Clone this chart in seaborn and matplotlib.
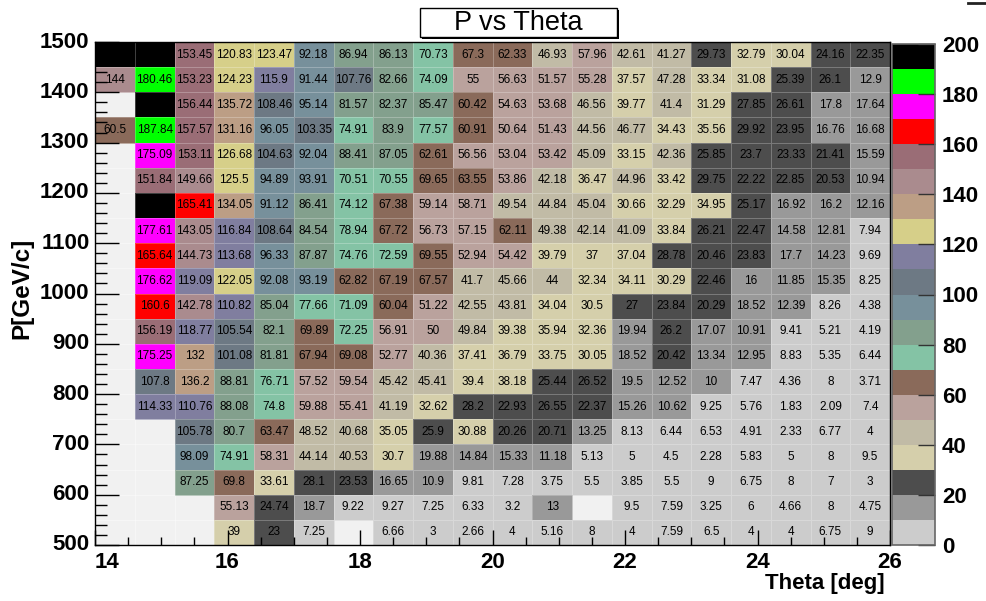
import numpy as np
import pandas as pd
import matplotlib
matplotlib.use("Agg")
import matplotlib.pyplot as plt
from matplotlib.colors import ListedColormap
from matplotlib.patches import Rectangle
from matplotlib.lines import Line2D
import seaborn as sns

nan = np.nan

# Bin layout: theta bins of 0.6 deg from 14 to 26, momentum bins of 50 GeV/c from 500 to 1500
theta_low = [14.0, 14.6, 15.2, 15.8, 16.4, 17.0, 17.6, 18.2, 18.8, 19.4,
             20.0, 20.6, 21.2, 21.8, 22.4, 23.0, 23.6, 24.2, 24.8, 25.4]
p_low = [1450, 1400, 1350, 1300, 1250, 1200, 1150, 1100, 1050, 1000,
         950, 900, 850, 800, 750, 700, 650, 600, 550, 500]

# Bin contents, one list per momentum bin (NaN = empty bin)
p1450 = [203.2, 198.4, 153.45, 120.83, 123.47, 92.18, 86.94, 86.13, 70.73, 67.3,
         62.33, 46.93, 57.96, 42.61, 41.27, 29.73, 32.79, 30.04, 24.16, 22.35]
p1400 = [144, 180.46, 153.23, 124.23, 115.9, 91.44, 107.76, 82.66, 74.09, 55,
         56.63, 51.57, 55.28, 37.57, 47.28, 33.34, 31.08, 25.39, 26.1, 12.9]
p1350 = [nan, 195.6, 156.44, 135.72, 108.46, 95.14, 81.57, 82.37, 85.47, 60.42,
         54.63, 53.68, 46.56, 39.77, 41.4, 31.29, 27.85, 26.61, 17.8, 17.64]
p1300 = [60.5, 187.84, 157.57, 131.16, 96.05, 103.35, 74.91, 83.9, 77.57, 60.91,
         50.64, 51.43, 44.56, 46.77, 34.43, 35.56, 29.92, 23.95, 16.76, 16.68]
p1250 = [nan, 175.09, 153.11, 126.68, 104.63, 92.04, 88.41, 87.05, 62.61, 56.56,
         53.04, 53.42, 45.09, 33.15, 42.36, 25.85, 23.7, 23.33, 21.41, 15.59]
p1200 = [nan, 151.84, 149.66, 125.5, 94.89, 93.91, 70.51, 70.55, 69.65, 63.55,
         53.86, 42.18, 36.47, 44.96, 33.42, 29.75, 22.22, 22.85, 20.53, 10.94]
p1150 = [nan, 190.17, 165.41, 134.05, 91.12, 86.41, 74.12, 67.38, 59.14, 58.71,
         49.54, 44.84, 45.04, 30.66, 32.29, 34.95, 25.17, 16.92, 16.2, 12.16]
p1100 = [nan, 177.61, 143.05, 116.84, 108.64, 84.54, 78.94, 67.72, 56.73, 57.15,
         62.11, 49.38, 42.14, 41.09, 33.84, 26.21, 22.47, 14.58, 12.81, 7.94]
p1050 = [nan, 165.64, 144.73, 113.68, 96.33, 87.87, 74.76, 72.59, 69.55, 52.94,
         54.42, 39.79, 37, 37.04, 28.78, 20.46, 23.83, 17.7, 14.23, 9.69]
p1000 = [nan, 176.62, 119.09, 122.05, 92.08, 93.19, 62.82, 67.19, 67.57, 41.7,
         45.66, 44, 32.34, 34.11, 30.29, 22.46, 16, 11.85, 15.35, 8.25]
p950 = [nan, 160.6, 142.78, 110.82, 85.04, 77.66, 71.09, 60.04, 51.22, 42.55,
        43.81, 34.04, 30.5, 27, 23.84, 20.29, 18.52, 12.39, 8.26, 4.38]
p900 = [nan, 156.19, 118.77, 105.54, 82.1, 69.89, 72.25, 56.91, 50, 49.84,
        39.38, 35.94, 32.36, 19.94, 26.2, 17.07, 10.91, 9.41, 5.21, 4.19]
p850 = [nan, 175.25, 132, 101.08, 81.81, 67.94, 69.08, 52.77, 40.36, 37.41,
        36.79, 33.75, 30.05, 18.52, 20.42, 13.34, 12.95, 8.83, 5.35, 6.44]
p800 = [nan, 107.8, 136.2, 88.81, 76.71, 57.52, 59.54, 45.42, 45.41, 39.4,
        38.18, 25.44, 26.52, 19.5, 12.52, 10, 7.47, 4.36, 8, 3.71]
p750 = [nan, 114.33, 110.76, 88.08, 74.8, 59.88, 55.41, 41.19, 32.62, 28.2,
        22.93, 26.55, 22.37, 15.26, 10.62, 9.25, 5.76, 1.83, 2.09, 7.4]
p700 = [nan, nan, 105.78, 80.7, 63.47, 48.52, 40.68, 35.05, 25.9, 30.88,
        20.26, 20.71, 13.25, 8.13, 6.44, 6.53, 4.91, 2.33, 6.77, 4]
p650 = [nan, nan, 98.09, 74.91, 58.31, 44.14, 40.53, 30.7, 19.88, 14.84,
        15.33, 11.18, 5.13, 5, 4.5, 2.28, 5.83, 5, 8, 9.5]
p600 = [nan, nan, 87.25, 69.8, 33.61, 28.1, 23.53, 16.65, 10.9, 9.81,
        7.28, 3.75, 5.5, 3.85, 5.5, 9, 6.75, 8, 7, 3]
p550 = [nan, nan, nan, 55.13, 24.74, 18.7, 9.22, 9.27, 7.25, 6.33,
        3.2, 13, nan, 9.5, 7.59, 3.25, 6, 4.66, 8, 4.75]
p500 = [nan, nan, nan, 39, 23, 7.25, nan, 6.66, 3, 2.66,
        4, 5.16, 8, 4, 7.59, 6.5, 4, 4, 6.75, 9]

rows = [p1450, p1400, p1350, p1300, p1250, p1200, p1150, p1100, p1050, p1000,
        p950, p900, p850, p800, p750, p700, p650, p600, p550, p500]

theta_ticks = [14, 16, 18, 20, 22, 24, 26]
p_ticks = [500, 600, 700, 800, 900, 1000, 1100, 1200, 1300, 1400, 1500]
z_ticks = [0, 20, 40, 60, 80, 100, 120, 140, 160, 180, 200]

# 20-step palette, lowest band first
palette = ['#cccccc', '#999999', '#4d4d4d', '#d5cfab', '#c1bba6', '#baa29d',
           '#8a6a5a', '#84c3a5', '#83a08d', '#77909b', '#6d7984', '#807e9f',
           '#d6cf89', '#bc9e85', '#aa8b8e', '#9a6d76', '#ff0000', '#ff00ff',
           '#00ff00', '#000000']
cmap = ListedColormap(palette)

df = pd.DataFrame(rows, index=p_low, columns=theta_low)

W, H = 986, 601
fig = plt.figure(figsize=(W / 100, H / 100), dpi=100)
fig.patch.set_facecolor('white')

fam = ['Liberation Sans', 'DejaVu Sans']
plt.rcParams['font.family'] = fam

x0, x1, y0, y1 = 95, 890, 42, 545
ax = fig.add_axes([x0 / W, 1 - y1 / H, (x1 - x0) / W, (y1 - y0) / H])
cax = fig.add_axes([892 / W, 1 - y1 / H, 43 / W, (y1 - 44) / H])
ax.set_facecolor('#f1f1f1')

sns.heatmap(df, ax=ax, cbar_ax=cax, cmap=cmap, vmin=0, vmax=200,
            mask=df.isna(), annot=True, fmt='g',
            annot_kws={'color': 'black', 'fontsize': 8.5, 'family': fam},
            linewidths=0.6, linecolor=(1, 1, 1, 0.25))

# numeric axes on top of the bin grid
dtheta = 0.6
dp = 50
ax.set_xlim(0, len(theta_low))
ax.set_ylim(len(p_low), 0)
ax.set_xticks([(t - 14) / dtheta for t in theta_ticks])
ax.set_xticklabels([str(t) for t in theta_ticks])
ax.set_xticks([(t - 14) / dtheta for t in np.arange(14, 26.01, 0.5)], minor=True)
ax.set_yticks([(1500 - p) / dp for p in p_ticks])
ax.set_yticklabels([str(p) for p in p_ticks], rotation=0)
ax.set_yticks([(1500 - p) / dp for p in range(500, 1501, 20)], minor=True)

for s in ax.spines.values():
    s.set_visible(True)
    s.set_color('black')
    s.set_linewidth(1.0)

ax.tick_params(axis='x', which='major', direction='in', length=11, width=1,
               pad=5, labelsize=16, top=False, bottom=True)
ax.tick_params(axis='x', which='minor', direction='in', length=5.5, width=1,
               top=False, bottom=True)
ax.tick_params(axis='y', which='major', direction='in', length=17, width=1,
               pad=4, labelsize=16, left=True, right=False)
ax.tick_params(axis='y', which='minor', direction='in', length=8.5, width=1,
               left=True, right=False)
for lbl in ax.get_xticklabels() + ax.get_yticklabels():
    lbl.set_fontweight('bold')
    lbl.set_family(fam)
ax.get_xticklabels()[0].set_ha('left')
ax.set_xlabel('')
ax.set_ylabel('')

# colour scale
cbar = ax.collections[0].colorbar
cbar.set_ticks(z_ticks)
cbar.set_ticklabels([str(z) for z in z_ticks])
cbar.outline.set_edgecolor('#666666')
cbar.outline.set_linewidth(1.2)
cax.tick_params(direction='in', length=12, width=1, color='#333333',
                labelsize=16, pad=5)
for lbl in cax.get_yticklabels():
    lbl.set_fontweight('bold')
    lbl.set_family(fam)

# axis titles
fig.text(885 / W, 1 - 583 / H, 'Theta [deg]', ha='right', va='center',
         fontsize=16, fontweight='bold', family=fam)
fig.text(22 / W, 1 - 288 / H, 'P[GeV/c]', ha='center', va='center',
         rotation=90, fontsize=17.5, fontweight='bold', family=fam)

# title box with shadow
bx0, by0, bx1, by1 = 420, 8, 617, 37
fig.patches.append(Rectangle(((bx0 + 2) / W, 1 - (by1 + 2) / H), (bx1 - bx0) / W,
                             (by1 - by0) / H, transform=fig.transFigure,
                             facecolor='black', edgecolor='none'))
fig.patches.append(Rectangle((bx0 / W, 1 - by1 / H), (bx1 - bx0) / W,
                             (by1 - by0) / H, transform=fig.transFigure,
                             facecolor='white', edgecolor='black', linewidth=1))
fig.text((bx0 + bx1) / 2 / W, 1 - (by0 + by1) / 2 / H, 'P vs Theta',
         ha='center', va='center', fontsize=19.5, family=fam)

# edge of the statistics box peeking in at the top right
fig.lines.append(Line2D([968 / W, 1.0], [1 - 2.5 / H, 1 - 2.5 / H],
                        transform=fig.transFigure, color='#222222', linewidth=2))

fig.savefig('out.png', dpi=100, facecolor='white')
